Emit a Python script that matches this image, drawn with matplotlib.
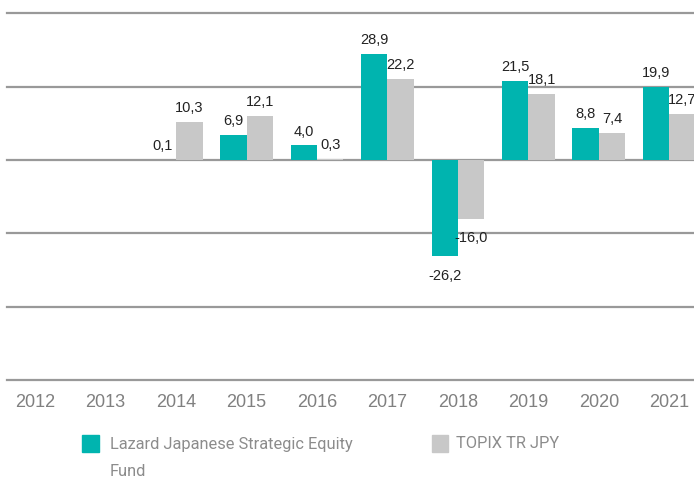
import numpy as np
import matplotlib
matplotlib.use("Agg")
import matplotlib.pyplot as plt
from matplotlib.patches import Rectangle

# datos
anios = ["2012", "2013", "2014", "2015", "2016", "2017", "2018", "2019", "2020", "2021"]
fondo = [np.nan, np.nan, 0.1, 6.9, 4.0, 28.9, -26.2, 21.5, 8.8, 19.9]
topix = [np.nan, np.nan, 10.3, 12.1, 0.3, 22.2, -16.0, 18.1, 7.4, 12.7]
nombre_fondo = "Lazard Japanese Strategic Equity"
nombre_fondo2 = "Fund"
nombre_indice = "TOPIX TR JPY"

verde = "#00B4AF"
gris = "#C8C8C8"
fuente_ligera = ["Roboto", "DejaVu Sans"]

plt.rcParams["font.family"] = ["Liberation Sans", "DejaVu Sans"]

fig = plt.figure(figsize=(6.94, 4.78), dpi=100)
W, H = 694, 478
ax = fig.add_axes([7 / W, 1 - 380 / H, 687 / W, (380 - 13.5) / H])

x = np.arange(len(anios))
ancho = 0.375
b1 = ax.bar(x - ancho / 2, fondo, ancho, color=verde, zorder=3)
b2 = ax.bar(x + ancho / 2, topix, ancho, color=gris, zorder=3)

# etiquetas de valores
for barras, valores in [(b1, fondo), (b2, topix)]:
    for rect, v in zip(barras, valores):
        if np.isnan(v):
            continue
        cx = rect.get_x() + rect.get_width() / 2
        off = 10 if v >= 0 else -14
        ax.annotate(f"{v:.1f}".replace(".", ","), (cx, v), xytext=(0, off),
                    textcoords="offset points", ha="center", va="center",
                    fontsize=10.5, color="#222222", annotation_clip=False)

ax.set_xlim(-0.4, 9.35)
ax.set_ylim(-60, 40)
ax.set_yticks(range(-60, 41, 20))
ax.yaxis.grid(True, color="#999999", linewidth=1.6)
for linea in ax.get_ygridlines():
    linea.set_clip_on(False)
ax.set_axisbelow(True)
ax.tick_params(axis="y", left=False, labelleft=False)
ax.set_xticks(x)
ax.set_xticklabels(anios, fontsize=13, color="#808080")
ax.tick_params(axis="x", length=0, pad=10)
for s in ax.spines.values():
    s.set_visible(False)

# leyenda manual
fig.add_artist(Rectangle((82 / W, 1 - 452 / H), 17 / W, 17 / H,
                         transform=fig.transFigure, color=verde))
fig.add_artist(Rectangle((432 / W, 1 - 452 / H), 16 / W, 17 / H,
                         transform=fig.transFigure, color=gris))
fig.text(110 / W, 1 - 444 / H, nombre_fondo, family=fuente_ligera,
         fontsize=11.8, color="#8c8c8c", va="center")
fig.text(110 / W, 1 - 471 / H, nombre_fondo2, family=fuente_ligera,
         fontsize=11.8, color="#8c8c8c", va="center")
fig.text(456 / W, 1 - 444 / H, nombre_indice, family=fuente_ligera,
         fontsize=11.8, color="#8c8c8c", va="center")

fig.savefig("out.png", dpi=100)
